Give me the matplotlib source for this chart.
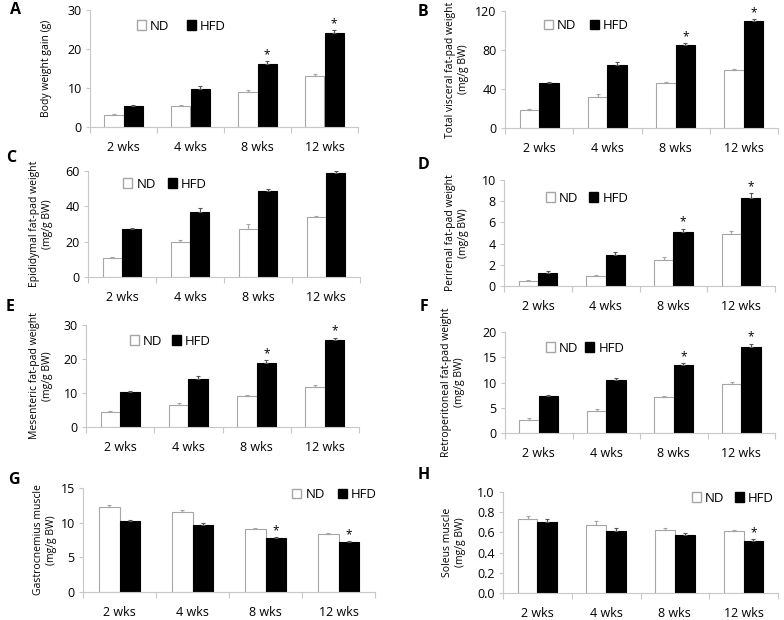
import numpy as np
import matplotlib
matplotlib.use("Agg")
import matplotlib.pyplot as plt
from matplotlib.patches import Patch

plt.rcParams['font.family'] = ['Open Sans', 'DejaVu Sans']

# categories shared by all panels
weeks = ['2 wks', '4 wks', '8 wks', '12 wks']

# A - body weight gain
a_nd = [3.1, 5.3, 9.1, 13.2]
a_nd_err = [0.2, 0.3, 0.3, 0.3]
a_hfd = [5.3, 9.8, 16.2, 24.2]
a_hfd_err = [0.3, 0.6, 0.7, 0.6]
a_star = [False, False, True, True]

# B - total visceral fat-pad
b_nd = [18, 32, 46, 60]
b_nd_err = [1.5, 2.5, 1.5, 1.0]
b_hfd = [46, 64.5, 85.5, 110]
b_hfd_err = [1.5, 3.5, 1.5, 1.5]
b_star = [False, False, True, True]

# C - epididymal
c_nd = [11, 20, 27.2, 33.8]
c_nd_err = [0.6, 1.2, 3.0, 1.0]
c_hfd = [27, 37, 48.5, 59]
c_hfd_err = [1.0, 1.8, 1.2, 0.8]
c_star = [False, False, False, False]

# D - perirenal
d_nd = [0.5, 0.9, 2.5, 4.95]
d_nd_err = [0.1, 0.1, 0.2, 0.25]
d_hfd = [1.2, 2.9, 5.1, 8.3]
d_hfd_err = [0.25, 0.35, 0.3, 0.45]
d_star = [False, False, True, True]

# E - mesenteric
e_nd = [4.3, 6.5, 9.0, 11.8]
e_nd_err = [0.4, 0.5, 0.5, 0.6]
e_hfd = [10.2, 14.1, 18.7, 25.7]
e_hfd_err = [0.5, 0.9, 1.0, 0.6]
e_star = [False, False, True, True]

# F - retroperitoneal
f_nd = [2.6, 4.4, 7.1, 9.8]
f_nd_err = [0.3, 0.4, 0.3, 0.3]
f_hfd = [7.4, 10.5, 13.5, 17.0]
f_hfd_err = [0.2, 0.4, 0.3, 0.7]
f_star = [False, False, True, True]

# G - gastrocnemius
g_nd = [12.3, 11.5, 9.1, 8.3]
g_nd_err = [0.3, 0.3, 0.1, 0.15]
g_hfd = [10.2, 9.7, 7.8, 7.2]
g_hfd_err = [0.2, 0.3, 0.15, 0.15]
g_star = [False, False, True, True]

# H - soleus
h_nd = [0.73, 0.67, 0.62, 0.61]
h_nd_err = [0.03, 0.04, 0.02, 0.015]
h_hfd = [0.70, 0.61, 0.57, 0.51]
h_hfd_err = [0.035, 0.03, 0.02, 0.02]
h_star = [False, False, False, True]

W, H = 784, 620
fig = plt.figure(figsize=(W / 100, H / 100), dpi=100)

GRAY = '#a6a6a6'
BW = 0.2857


def px_axes(l, r, t, b):
    return fig.add_axes([l / W, (H - b) / H, (r - l) / W, (b - t) / H])


def panel(box, letter, letter_xy, nd, nd_err, hfd, hfd_err, star,
          ymax, yticks, yfmt, ylabel, leg_xy, leg_sp, lab_x):
    ax = px_axes(*box)
    x = np.arange(len(weeks))
    ax.bar(x - BW / 2, nd, BW, color='white', edgecolor=GRAY, linewidth=0.8)
    ax.bar(x + BW / 2, hfd, BW, color='black', edgecolor='black', linewidth=0.8)
    z = np.zeros(len(weeks))
    ax.errorbar(x - BW / 2, nd, yerr=[z, nd_err], fmt='none', ecolor=GRAY,
                elinewidth=0.8, capsize=1.5, capthick=0.8)
    ax.errorbar(x + BW / 2, hfd, yerr=[z, hfd_err], fmt='none', ecolor='#555555',
                elinewidth=0.8, capsize=1.5, capthick=0.8)
    for i in range(len(weeks)):
        if star[i]:
            ax.annotate('*', (x[i] + BW / 2, hfd[i] + hfd_err[i]),
                        xytext=(0, 0), textcoords='offset points',
                        ha='center', va='bottom', fontsize=8.5)
    ax.set_xlim(-0.5, len(weeks) - 0.5)
    ax.set_ylim(0, ymax)
    ax.set_yticks(yticks)
    ax.set_yticklabels([yfmt.format(v) for v in yticks])
    ax.set_xticks(x)
    ax.set_xticklabels(weeks)
    ax.set_xticks(np.arange(-0.5, len(weeks)), minor=True)
    ax.tick_params(axis='x', which='major', length=0, pad=10, labelsize=9)
    ax.tick_params(axis='x', which='minor', length=4, color='#c8c8c8', width=0.8)
    ax.tick_params(axis='y', length=3, color='#c8c8c8', width=0.8, labelsize=9, pad=3)
    for s in ['top', 'right']:
        ax.spines[s].set_visible(False)
    for s in ['left', 'bottom']:
        ax.spines[s].set_color('#c8c8c8')
        ax.spines[s].set_linewidth(0.8)
    ax.set_ylabel(ylabel, fontsize=7.5, linespacing=1.25)
    ax.yaxis.set_label_coords((lab_x - box[0]) / (box[1] - box[0]), 0.5)
    handles = [Patch(facecolor='white', edgecolor=GRAY, label='ND'),
               Patch(facecolor='black', edgecolor='black', label='HFD')]
    ax.legend(handles=handles, loc='center left', bbox_to_anchor=leg_xy,
              ncol=2, frameon=False, fontsize=9.5, handlelength=0.7,
              handleheight=0.7, handletextpad=0.3, columnspacing=leg_sp,
              borderpad=0, borderaxespad=0)
    fig.text(letter_xy[0] / W, 1 - letter_xy[1] / H, letter, fontsize=11.5,
             fontweight='bold', ha='left', va='center')
    return ax


panel((90, 358, 10, 127), 'A', (10, 10), a_nd, a_nd_err, a_hfd, a_hfd_err, a_star,
      30, [0, 10, 20, 30], '{:.0f}', 'Body weight gain (g)', (0.175, 0.863), 1.3, 52)
panel((505, 778, 11, 128), 'B', (418, 12), b_nd, b_nd_err, b_hfd, b_hfd_err, b_star,
      120, [0, 40, 80, 120], '{:.0f}', 'Total visceral fat-pad weight\n(mg/g BW)',
      (0.143, 0.872), 1.0, 469)
panel((88, 360, 171, 277), 'C', (6, 158), c_nd, c_nd_err, c_hfd, c_hfd_err, c_star,
      60, [0, 20, 40, 60], '{:.0f}', 'Epididymal fat-pad weight\n(mg/g BW)',
      (0.129, 0.877), 0.9, 53)
panel((504, 775, 180, 286), 'D', (418, 165), d_nd, d_nd_err, d_hfd, d_hfd_err, d_star,
      10, [0, 2, 4, 6, 8, 10], '{:.0f}', 'Perirenal fat-pad weight\n(mg/g BW)',
      (0.155, 0.83), 0.8, 469)
panel((86, 359, 325, 427), 'E', (6, 307), e_nd, e_nd_err, e_hfd, e_hfd_err, e_star,
      30, [0, 10, 20, 30], '{:.0f}', 'Mesenteric fat-pad weight\n(mg/g BW)',
      (0.161, 0.843), 0.7, 53)
panel((505, 775, 332, 433), 'F', (420, 307), f_nd, f_nd_err, f_hfd, f_hfd_err, f_star,
      20, [0, 5, 10, 15, 20], '{:.0f}', 'Retroperitoneal fat-pad weight\n(mg/g BW)',
      (0.152, 0.84), 0.5, 465)
panel((83, 375, 488, 592), 'G', (8, 480), g_nd, g_nd_err, g_hfd, g_hfd_err, g_star,
      15, [0, 5, 10, 15], '{:.0f}', 'Gastrocnemius muscle\n(mg/g BW)',
      (0.716, 0.94), 1.0, 57)
panel((503, 778, 492, 593), 'H', (418, 475), h_nd, h_nd_err, h_hfd, h_hfd_err, h_star,
      1.0, [0, 0.2, 0.4, 0.6, 0.8, 1.0], '{:.1f}', 'Soleus muscle\n(mg/g BW)',
      (0.687, 0.94), 0.8, 466)

fig.savefig('out.png', dpi=100)
